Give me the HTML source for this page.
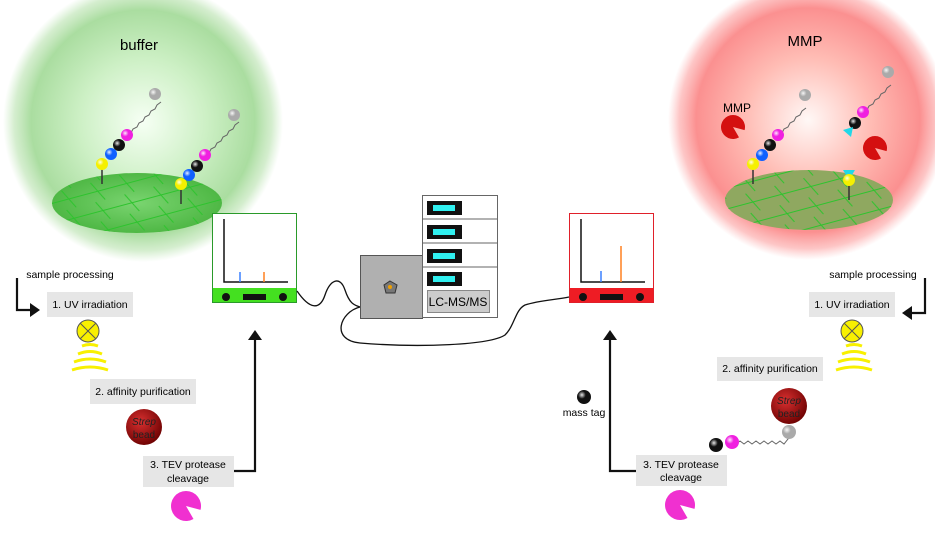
<!DOCTYPE html>
<html><head><meta charset="utf-8"><style>
html,body{margin:0;padding:0;background:#fff}
svg{display:block}
text{font-family:"Liberation Sans",sans-serif}
</style></head><body>
<svg width="935" height="533" viewBox="0 0 935 533" xmlns="http://www.w3.org/2000/svg">
<defs>
<radialGradient id="gs" cx="0.5" cy="0.5" r="0.5"><stop offset="0" stop-color="#f6fff4"/><stop offset="0.45" stop-color="#cdf0c5"/><stop offset="0.8" stop-color="#aadda0"/><stop offset="0.92" stop-color="#b8e2ae" stop-opacity="0.6"/><stop offset="1" stop-color="#c0e6b8" stop-opacity="0"/></radialGradient>
<radialGradient id="rs" cx="0.5" cy="0.5" r="0.5"><stop offset="0" stop-color="#fff8f6"/><stop offset="0.45" stop-color="#ffbcb4"/><stop offset="0.8" stop-color="#fb9090"/><stop offset="0.92" stop-color="#fca0a0" stop-opacity="0.6"/><stop offset="1" stop-color="#fcb0b0" stop-opacity="0"/></radialGradient>
<radialGradient id="ball" cx="0.35" cy="0.35" r="0.7"><stop offset="0" stop-color="#fff" stop-opacity="0.9"/><stop offset="0.4" stop-color="#fff" stop-opacity="0"/></radialGradient>
<radialGradient id="bead" cx="0.4" cy="0.35" r="0.7"><stop offset="0" stop-color="#d83030"/><stop offset="1" stop-color="#6a0000"/></radialGradient>
<radialGradient id="disc" cx="0.5" cy="0.5" r="0.5"><stop offset="0" stop-color="#7ad470"/><stop offset="1" stop-color="#4fb845"/></radialGradient>
<pattern id="grid" width="30" height="20" patternUnits="userSpaceOnUse" patternTransform="rotate(-15)"><path d="M0 10H30M10 0L20 20" stroke="#2ec32e" stroke-width="1" fill="none"/></pattern>
</defs>
<circle cx="143" cy="122" r="140" fill="url(#gs)"/>
<circle cx="808" cy="120" r="140" fill="url(#rs)"/>
<text x="139" y="50" font-size="15" text-anchor="middle">buffer</text>
<text x="805" y="46" font-size="15" text-anchor="middle">MMP</text>
<ellipse cx="137" cy="203" rx="85" ry="30" fill="url(#disc)"/>
<ellipse cx="137" cy="203" rx="85" ry="30" fill="url(#grid)"/>
<ellipse cx="809" cy="200" rx="84" ry="30" fill="#8fa860"/>
<ellipse cx="809" cy="200" rx="84" ry="30" fill="url(#grid)"/>
<g stroke="#333" stroke-width="1.5"><line x1="102" y1="164" x2="102" y2="184"/><line x1="181" y1="184" x2="181" y2="204"/><line x1="753" y1="164" x2="753" y2="184"/><line x1="849" y1="180" x2="849" y2="200"/></g>
<g fill="none" stroke="#666" stroke-width="1">
<path d="M127 135 l4 -2 l2 -4 l4 -2 l2 -4 l4 -2 l2 -4 l4 -2 l2 -4 l4 -2 l2 -4 l4 -3"/>
<path d="M205 155 l4 -2 l2 -4 l4 -2 l2 -4 l4 -2 l2 -4 l4 -2 l2 -4 l4 -2 l2 -4 l4 -3"/>
<path d="M778 135 l4 -2 l2 -4 l4 -2 l2 -4 l4 -2 l2 -4 l4 -2 l2 -4 l4 -3"/>
<path d="M863 112 l4 -2 l2 -4 l4 -2 l2 -4 l4 -2 l2 -4 l4 -2 l2 -4 l4 -3"/>
<path d="M732 442 l4 2 l4 -3 l4 3 l4 -3 l4 3 l4 -3 l4 3 l4 -3 l4 3 l4 -3 l4 3 l4 -3 l4 3 l4 -5 l6 -4"/>
</g>
<g>
<circle cx="102" cy="164" r="6" fill="#f5f000"/><circle cx="111" cy="154" r="6" fill="#1060ff"/><circle cx="119" cy="145" r="6" fill="#111"/><circle cx="127" cy="135" r="6" fill="#f020e0"/><circle cx="155" cy="94" r="6" fill="#aaa"/>
<circle cx="181" cy="184" r="6" fill="#f5f000"/><circle cx="189" cy="175" r="6" fill="#1060ff"/><circle cx="197" cy="166" r="6" fill="#111"/><circle cx="205" cy="155" r="6" fill="#f020e0"/><circle cx="234" cy="115" r="6" fill="#aaa"/>
<circle cx="753" cy="164" r="6" fill="#f5f000"/><circle cx="762" cy="155" r="6" fill="#1060ff"/><circle cx="770" cy="145" r="6" fill="#111"/><circle cx="778" cy="135" r="6" fill="#f020e0"/><circle cx="805" cy="95" r="6" fill="#aaa"/>
<circle cx="863" cy="112" r="6" fill="#f020e0"/><circle cx="855" cy="123" r="6" fill="#111"/><path d="M843 130 l10 -3 l-2 10 z" fill="#20d8e8"/><circle cx="888" cy="72" r="6" fill="#aaa"/>
<path d="M843 170 h12 l-3 5 h-6 z" fill="#20d8e8"/><circle cx="849" cy="180" r="6" fill="#f5f000"/>
<circle cx="584" cy="397" r="7" fill="#111"/>
<circle cx="716" cy="445" r="7" fill="#111"/><circle cx="732" cy="442" r="7" fill="#f020e0"/><circle cx="789" cy="432" r="7" fill="#aaa"/>
</g>
<g fill="url(#ball)">
<circle cx="102" cy="164" r="6"/><circle cx="111" cy="154" r="6"/><circle cx="119" cy="145" r="6"/><circle cx="127" cy="135" r="6"/><circle cx="155" cy="94" r="6"/>
<circle cx="181" cy="184" r="6"/><circle cx="189" cy="175" r="6"/><circle cx="197" cy="166" r="6"/><circle cx="205" cy="155" r="6"/><circle cx="234" cy="115" r="6"/>
<circle cx="753" cy="164" r="6"/><circle cx="762" cy="155" r="6"/><circle cx="770" cy="145" r="6"/><circle cx="778" cy="135" r="6"/><circle cx="805" cy="95" r="6"/>
<circle cx="863" cy="112" r="6"/><circle cx="855" cy="123" r="6"/><circle cx="888" cy="72" r="6"/><circle cx="849" cy="180" r="6"/>
<circle cx="584" cy="397" r="7"/><circle cx="716" cy="445" r="7"/><circle cx="732" cy="442" r="7"/><circle cx="789" cy="432" r="7"/>
</g>
<!-- pacmen (mouth lower-right) -->
<path d="M733 127 L739 137.4 A12 12 0 1 1 744.6 130.1 Z" fill="#d41010"/>
<path d="M875 148 L881 158.4 A12 12 0 1 1 886.6 151.1 Z" fill="#d41010"/>
<text x="737" y="112" font-size="12" text-anchor="middle">MMP</text>
<path d="M186 506 L193.5 519 A15 15 0 1 1 200.5 509.9 Z" fill="#f030d0"/>
<path d="M680 505 L687.5 518 A15 15 0 1 1 694.5 508.9 Z" fill="#f030d0"/>
<!-- monitors -->
<rect x="212.5" y="213.5" width="84" height="89" fill="#fff" stroke="#2a9a2a"/>
<rect x="213" y="288" width="83" height="14" fill="#44e020"/>
<rect x="569.5" y="213.5" width="84" height="89" fill="#fff" stroke="#e0202a"/>
<rect x="570" y="288" width="83" height="14" fill="#ee1c24"/>
<g fill="#111"><circle cx="226" cy="297" r="4"/><circle cx="283" cy="297" r="4"/><rect x="243" y="294" width="23" height="6"/>
<circle cx="583" cy="297" r="4"/><circle cx="640" cy="297" r="4"/><rect x="600" y="294" width="23" height="6"/></g>
<path d="M224 219 V282 H288 M581 219 V282 H645" fill="none" stroke="#111" stroke-width="1.5"/>
<g stroke-width="1.5"><line x1="240" y1="272" x2="240" y2="282" stroke="#3a80ff"/><line x1="264" y1="272" x2="264" y2="282" stroke="#ff8020"/><line x1="601" y1="271" x2="601" y2="282" stroke="#3a80ff"/><line x1="621" y1="246" x2="621" y2="282" stroke="#ff8020"/></g>
<!-- cables -->
<path d="M297 291 C310 310 320 310 325 295 C330 280 340 275 345 290 C350 305 355 305 360 307 M360 307 C340 312 330 340 360 343 C420 348 490 345 505 335 C515 325 515 310 525 305 C540 300 555 300 569 297" fill="none" stroke="#111" stroke-width="1.3"/>
<!-- LC-MS -->
<rect x="360.5" y="255.5" width="62" height="63" fill="#b0b0b0" stroke="#555"/>
<path d="M390 281 l7 4 l-2 8 h-9 l-2 -8 z" fill="#777" stroke="#333"/><circle cx="390" cy="287" r="2" fill="#f0a000"/>
<rect x="422.5" y="195.5" width="75" height="122" fill="#fff" stroke="#666"/>
<path d="M422 219H497M422 243H497M422 267H497" stroke="#666"/>
<g fill="#111"><rect x="427" y="201" width="35" height="14"/><rect x="427" y="225" width="35" height="14"/><rect x="427" y="249" width="35" height="14"/><rect x="427" y="272" width="35" height="14"/></g>
<g fill="#30f0f0"><rect x="433" y="205" width="22" height="6"/><rect x="433" y="229" width="22" height="6"/><rect x="433" y="253" width="22" height="6"/><rect x="433" y="276" width="22" height="6"/></g>
<rect x="427.5" y="290.5" width="62" height="22" fill="#ccc" stroke="#888"/>
<text x="458" y="306" font-size="12" text-anchor="middle">LC-MS/MS</text>
<!-- labels -->
<g font-size="10.5" text-anchor="middle">
<rect x="47" y="292" width="86" height="25" fill="#e6e6e6"/><text x="90" y="308">1. UV irradiation</text>
<rect x="90" y="379" width="106" height="25" fill="#e6e6e6"/><text x="143" y="395">2. affinity purification</text>
<rect x="143" y="456" width="91" height="31" fill="#e6e6e6"/><text x="188" y="468">3. TEV protease</text><text x="188" y="482">cleavage</text>
<rect x="809" y="292" width="86" height="25" fill="#e6e6e6"/><text x="852" y="308">1. UV irradiation</text>
<rect x="717" y="357" width="106" height="24" fill="#e6e6e6"/><text x="770" y="372">2. affinity purification</text>
<rect x="636" y="455" width="91" height="31" fill="#e6e6e6"/><text x="681" y="468">3. TEV protease</text><text x="681" y="481">cleavage</text>
<text x="70" y="278">sample processing</text><text x="873" y="278">sample processing</text>
<text x="584" y="416">mass tag</text>
</g>
<!-- arrows -->
<g fill="none" stroke="#111" stroke-width="2.2">
<path d="M17 278 V310 H32"/><path d="M925 278 V313 H910"/>
<path d="M234 471 H255 V338"/><path d="M636 471 H610 V338"/>
</g>
<g fill="#111"><path d="M40 310 l-10 -7 v14 z"/><path d="M902 313 l10 -7 v14 z"/><path d="M255 330 l-7 10 h14 z"/><path d="M610 330 l-7 10 h14 z"/></g>
<!-- bulbs -->
<g stroke="#555" stroke-width="1"><circle cx="88" cy="331" r="11" fill="#f8f000"/><path d="M80 323 L96 339 M96 323 L80 339"/>
<circle cx="852" cy="331" r="11" fill="#f8f000"/><path d="M844 323 L860 339 M860 323 L844 339"/></g>
<g fill="none" stroke="#f8f000" stroke-width="3">
<path d="M82 346 Q90 343 98 346"/><path d="M78 354 Q90 349 102 354"/><path d="M74 362 Q90 356 106 362"/><path d="M72 370 Q90 364 108 370"/>
<path d="M846 346 Q854 343 862 346"/><path d="M842 354 Q854 349 866 354"/><path d="M838 362 Q854 356 870 362"/><path d="M836 370 Q854 364 872 370"/>
</g>
<!-- strep beads -->
<circle cx="144" cy="427" r="18" fill="url(#bead)"/><text x="144" y="425" font-size="10" font-style="italic" text-anchor="middle" fill="#222">Strep</text><text x="144" y="438" font-size="10" text-anchor="middle" fill="#222">bead</text>
<circle cx="789" cy="406" r="18" fill="url(#bead)"/><text x="789" y="404" font-size="10" font-style="italic" text-anchor="middle" fill="#222">Strep</text><text x="789" y="417" font-size="10" text-anchor="middle" fill="#222">bead</text>
</svg>
</body></html>
